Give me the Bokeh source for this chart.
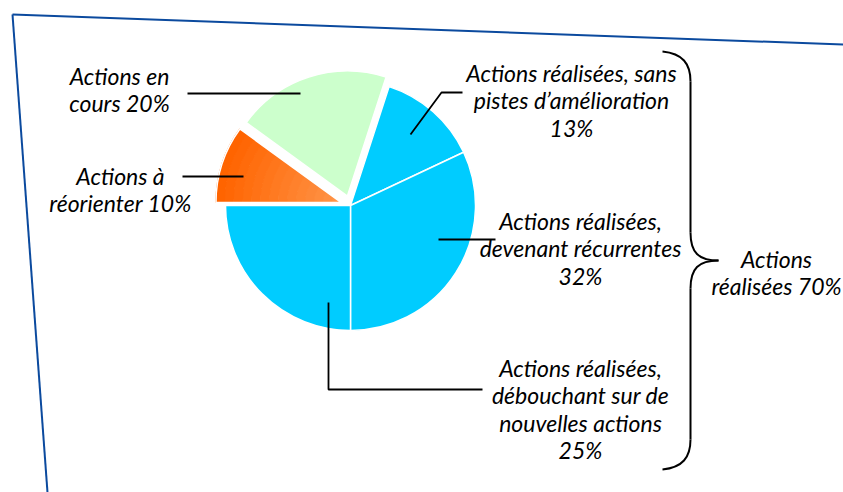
import numpy as np
from bokeh.plotting import figure
from bokeh.models import Range1d
from bokeh.core.properties import value
from bokeh.embed import file_html
from bokeh.resources import INLINE

# ---------------- data ----------------
categories = ["Actions à réorienter", "Actions en cours",
              "Actions réalisées, sans pistes d’amélioration",
              "Actions réalisées, devenant récurrentes",
              "Actions réalisées, débouchant sur de nouvelles actions"]
shares = [10, 20, 13, 32, 25]
realised = [False, False, True, True, True]
label_lines = [
    ["Actions à", "réorienter {}%"],
    ["Actions en", "cours {}%"],
    ["Actions réalisées, sans", "pistes d’amélioration", "{}%"],
    ["Actions réalisées,", "devenant récurrentes", "{}%"],
    ["Actions réalisées,", "débouchant sur de", "nouvelles actions", "{}%"],
]
total_lines = ["Actions", "réalisées {}%"]

# ---------------- layout / style ----------------
W, H = 843, 492
REF_H = 492
def Y(y):  # reference pixel row -> data y
    return REF_H - y

colors = ["#FF7A2C", "#CCFFCC", "#00CCFF", "#00CCFF", "#00CCFF"]
# radial shading (inner -> outer) for slices drawn with a gradient
gradients = {0: ("#FF9448", "#FF6400")}
explode = [10, 10, 0, 0, 0]
cx, cy, R = 350, 205, 125
start_deg = 180.0

TEXT_SHIFT = -8
label_pos = [  # (center x, first baseline)
    (120, 183), (119, 83), (571, 80), (580, 228), (580, 375)]
line_gap = 27.5
total_pos = (776, 266)
leaders = [
    [(182, 176), (243, 176)],
    [(187, 93), (300, 93)],
    [(410, 134), (441, 92), (462, 92)],
    [(495, 239), (438, 239)],
    [(482, 389), (328, 389), (328, 302)],
]
FONT = "Lato"
FSIZE = "23px"

p = figure(width=W, height=H, output_backend="svg", toolbar_location=None,
           x_range=Range1d(0, W), y_range=Range1d(REF_H - H, REF_H),
           min_border=0, min_border_left=0, min_border_right=0,
           min_border_top=0, min_border_bottom=0)
p.axis.visible = False
p.grid.visible = False
p.outline_line_color = None
p.background_fill_color = "white"

# frame lines (skewed page border)
p.line([12, 843], [Y(14), Y(44)], line_color="#0B4A9E", line_width=2)
p.line([12, 47], [Y(14), Y(492)], line_color="#0B4A9E", line_width=2)

def hex2rgb(h):
    return np.array([int(h[i:i + 2], 16) for i in (1, 3, 5)], dtype=float)

# pie wedges (clockwise from 180 deg)
tot = float(sum(shares))
a = start_deg
for k, (s, c, e) in enumerate(zip(shares, colors, explode)):
    sweep = 360.0 * s / tot
    a1 = a - sweep
    mid = np.radians((a + a1) / 2)
    x0 = cx + e * np.cos(mid)
    y0 = Y(cy) + e * np.sin(mid)
    if k in gradients:
        c0, c1 = hex2rgb(gradients[k][0]), hex2rgb(gradients[k][1])
        n = 14
        for j in range(n):
            t = j / (n - 1)
            rgb = (c0 * (1 - t) + c1 * t).astype(int)
            col = "#%02x%02x%02x" % tuple(rgb)
            p.annular_wedge(x=[x0], y=[y0], inner_radius=R * j / n, outer_radius=R * (j + 1) / n + 0.6,
                            start_angle=np.radians(a1), end_angle=np.radians(a),
                            fill_color=col, line_color=None)
        p.wedge(x=[x0], y=[y0], radius=R, start_angle=np.radians(a1), end_angle=np.radians(a),
                fill_color=None, line_color="white", line_width=1.5)
    else:
        p.wedge(x=[x0], y=[y0], radius=R, start_angle=np.radians(a1), end_angle=np.radians(a),
                fill_color=c, line_color="white", line_width=1.5)
    a = a1

# leader lines
for pts in leaders:
    p.line([q[0] for q in pts], [Y(q[1]) for q in pts], line_color="black", line_width=1.8)

# labels
def draw_lines(lines, x, y0):
    for i, t in enumerate(lines):
        p.text(x=[x], y=[Y(y0 + TEXT_SHIFT + i * line_gap)], text=[t], text_align="center",
               text_baseline="alphabetic", text_font=value(FONT), text_font_style="italic",
               text_font_size=FSIZE, text_color="black")

for lines, s, (x, y0) in zip(label_lines, shares, label_pos):
    draw_lines([l.format(s) for l in lines], x, y0)

tot_real = sum(s for s, r in zip(shares, realised) if r)
draw_lines([l.format(tot_real) for l in total_lines], *total_pos)

# brace
bx, tipx, tipy = 690, 718, 260
top, bot = 51, 469
p.bezier(x0=[662], y0=[Y(top)], x1=[bx], y1=[Y(top + 30)],
         cx0=[682], cy0=[Y(top + 2)], cx1=[bx], cy1=[Y(top + 12)], line_color="black", line_width=2)
p.line([bx, bx], [Y(top + 30), Y(tipy - 28)], line_color="black", line_width=2)
p.bezier(x0=[bx], y0=[Y(tipy - 28)], x1=[tipx], y1=[Y(tipy)],
         cx0=[bx], cy0=[Y(tipy - 8)], cx1=[bx + 8], cy1=[Y(tipy)], line_color="black", line_width=2)
p.bezier(x0=[tipx], y0=[Y(tipy)], x1=[bx], y1=[Y(tipy + 28)],
         cx0=[bx + 8], cy0=[Y(tipy)], cx1=[bx], cy1=[Y(tipy + 8)], line_color="black", line_width=2)
p.line([bx, bx], [Y(tipy + 28), Y(bot - 30)], line_color="black", line_width=2)
p.bezier(x0=[bx], y0=[Y(bot - 30)], x1=[662], y1=[Y(bot)],
         cx0=[bx], cy0=[Y(bot - 12)], cx1=[682], cy1=[Y(bot - 2)], line_color="black", line_width=2)

open("out.html", "w").write(file_html(p, INLINE))
